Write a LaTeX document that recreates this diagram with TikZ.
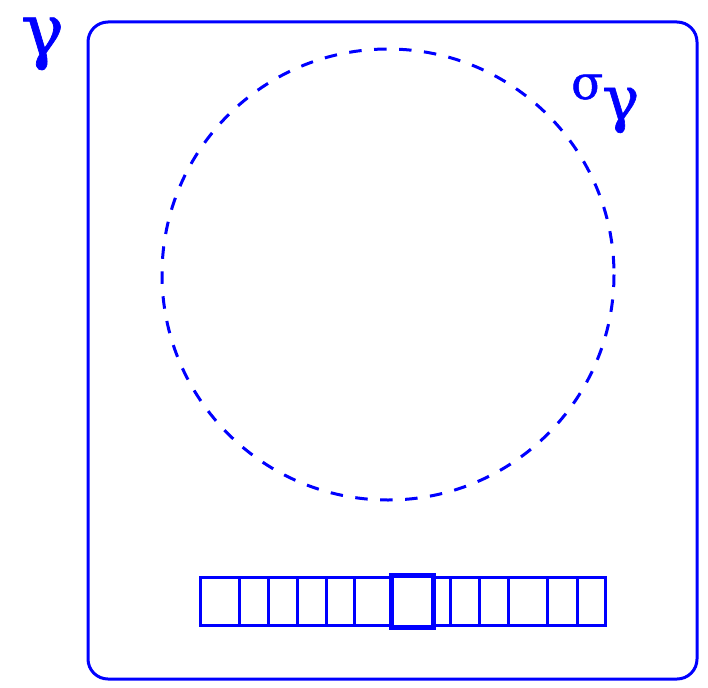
\documentclass[tikz,border=0pt]{standalone}
\usepackage{fontspec}
\setmainfont{Liberation Serif}
\newfontfamily\greekfont[FakeBold=1]{DejaVu Serif}
\begin{document}
\begin{tikzpicture}[x=1pt,y=-1pt,
  blu/.style={draw=blue, line width=3pt},
  cell/.style={draw=blue, line width=3pt},
  headcell/.style={draw=blue, line width=5pt},
  lab/.style={text=blue, inner sep=0pt}]
\useasboundingbox (0,0) rectangle (708,687);
\draw[blu, rounded corners=20pt] (88,22) rectangle (697,679);
\draw[draw=blue, line width=3pt, dash pattern=on 12.5pt off 12.5pt] (388,274.5) ellipse (226 and 225.5);
\foreach \a/\b in {200/239,239/268,268/297,297/326,326/354,354/391,433/450,450/479,479/508,508/547,547/577,577/605}
  \draw[cell] (\a,577) rectangle (\b,625);
\draw[headcell] (391,575) rectangle (433,627);
\node[lab, anchor=base, font=\greekfont\fontsize{72}{72}\selectfont] (g) at (42.5,55) {γ};
\node[lab, anchor=base west, font=\greekfont\fontsize{47}{47}\selectfont] (s) at (571,99)
  {σ\kern-1pt\raisebox{-21pt}{\fontsize{62}{62}\selectfont γ}};
\end{tikzpicture}
\end{document}
